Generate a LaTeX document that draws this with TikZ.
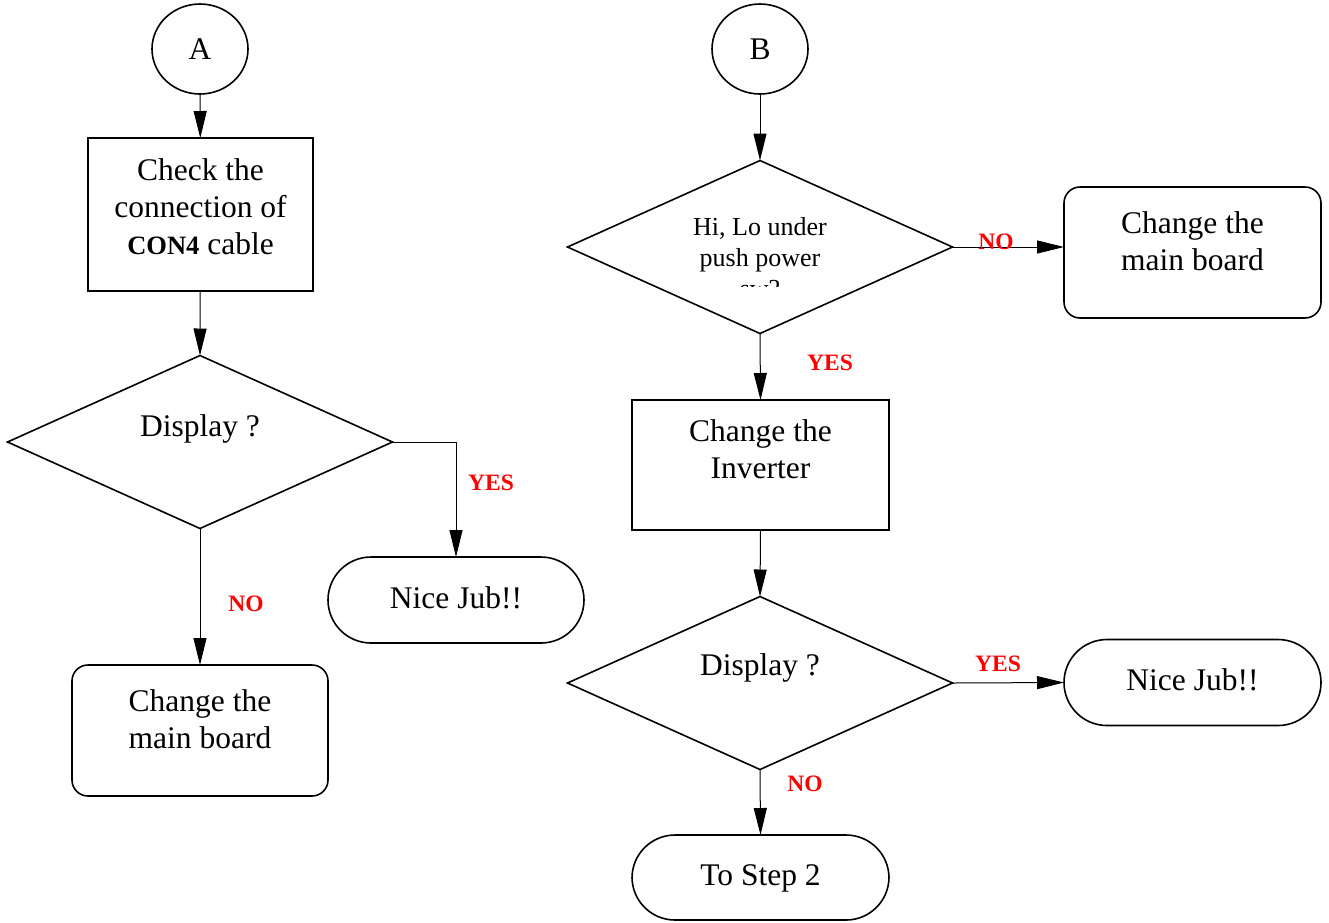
\documentclass[tikz,border=0pt]{standalone}
\usepackage{fontspec}
\setmainfont{Liberation Serif}
\usetikzlibrary{arrows.meta,shapes.geometric}
\tikzset{
  shapeline/.style={draw=black, line width=1.6pt, inner sep=0pt, outer sep=0pt},
  ovalbox/.style={shapeline, ellipse, minimum width=96pt, minimum height=90pt},
  decbox/.style={shapeline, diamond, minimum width=385pt, minimum height=173pt},
  roundbox/.style={shapeline, rectangle, rounded corners=16pt},
  termbox/.style={shapeline, rectangle, rounded corners=43pt, minimum width=256pt, minimum height=86pt},
  txt/.style={font=\fontsize{31.5}{37}\selectfont, align=center, inner sep=0pt},
  dtxt/.style={font=\fontsize{26}{31}\selectfont, align=center, inner sep=0pt},
  lbl/.style={font=\fontsize{23.5}{26}\selectfont\bfseries, text=red, inner sep=0pt},
  conn/.style={line width=1pt, -{Triangle[length=27pt,width=13pt]}},
}
\begin{document}
\begin{tikzpicture}[x=1pt,y=-1pt]
\useasboundingbox (0,0) rectangle (1329,922);
% Left column
\node[ovalbox] (A) at (200,49) {};
\node[txt] (At) at (200,49) {A};
\node[shapeline, minimum width=225pt, minimum height=153pt] (chk) at (200.5,214.5) {};
\node[txt] (chkt) at (200.5,207) {Check the\\connection of\\{\fontsize{26.5}{37}\selectfont\textbf{CON4}} cable};
\node[decbox] (d1) at (200,442) {};
\node[txt] (d1t) at (200,429) {Display ?};
\node[termbox] (nj1) at (456,600) {};
\node[txt] (nj1t) at (456,598) {Nice Jub!!};
\node[roundbox, minimum width=256pt, minimum height=131pt] (cm1) at (200,730.5) {};
\node[txt] (cm1t) at (200,719) {Change the\\main board};
\draw[conn] (A) -- (chk);
\draw[conn] (chk) -- (d1.north);
\draw[conn] (d1.east) -| (nj1.north);
\draw[conn] (d1.south) -- (cm1.north);
\node[lbl] (yes1) at (491,483) {YES};
\node[lbl] (no1) at (246,604) {NO};
% Right column
\node[ovalbox] (B) at (760,49) {};
\node[txt] (Bt) at (760,49) {B};
\node[decbox] (d2) at (760,247) {};
\begin{scope}
\clip (600,200) rectangle (920,286);
\node[dtxt] (d2t) at (760,258) {Hi, Lo under\\push power\\sw?};
\end{scope}
\node[roundbox, minimum width=257pt, minimum height=131pt] (cm2) at (1192.5,252.5) {};
\node[txt] (cm2t) at (1192.5,241) {Change the\\main board};
\node[shapeline, minimum width=257pt, minimum height=130pt] (inv) at (760.5,465) {};
\node[txt] (invt) at (760.5,449) {Change the\\Inverter};
\node[decbox] (d3) at (760,683) {};
\node[txt] (d3t) at (760,668) {Display ?};
\node[termbox, minimum width=257pt] (nj2) at (1192.5,682.5) {};
\node[txt] (nj2t) at (1192.5,680) {Nice Jub!!};
\node[termbox, minimum width=257pt, minimum height=85pt] (st2) at (760.5,877.5) {};
\node[txt] (st2t) at (760.5,878) {To Step 2};
\draw[conn] (B) -- (d2.north);
\draw[conn] (d2.east) -- (d2.east -| cm2.west);
\draw[conn] (d2.south) -- (inv.north);
\draw[conn] (inv.south) -- (d3.north);
\draw[conn] (d3.east) -- (nj2.west);
\draw[conn] (d3.south) -- (st2.north);
\node[lbl] (no2) at (996,242) {NO};
\node[lbl] (yes2) at (830,363) {YES};
\node[lbl] (yes3) at (998,664) {YES};
\node[lbl] (no3) at (805,784) {NO};
\end{tikzpicture}
\end{document}
